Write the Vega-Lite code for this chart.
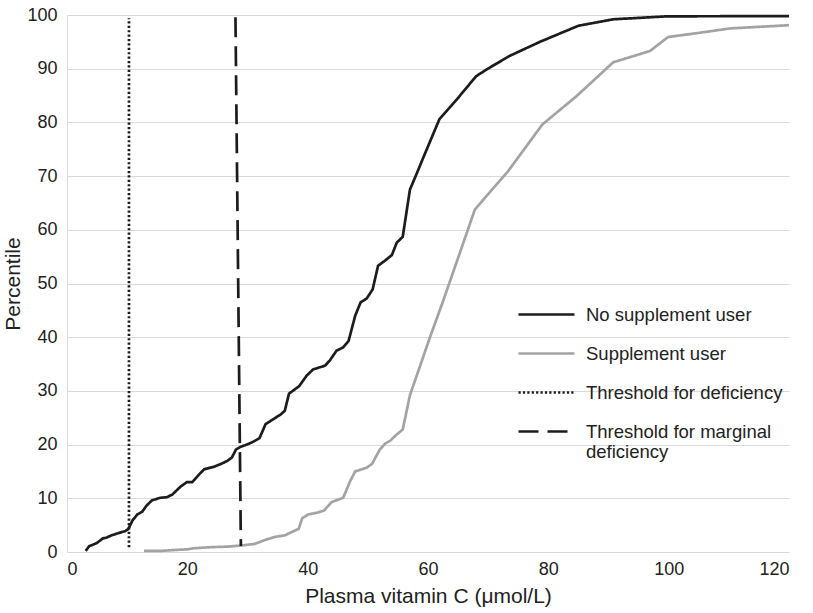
{
  "$schema": "https://vega.github.io/schema/vega-lite/v6.json",
  "autosize": {"type": "none"},
  "width": 722,
  "height": 537,
  "padding": {"left": 67, "top": 15, "right": 24, "bottom": 61},
  "background": "white",
  "config": {
    "view": {"stroke": null},
    "font": "Liberation Sans",
    "axis": {"labelFont": "Liberation Sans", "titleFont": "Liberation Sans", "labelColor": "#222222", "titleColor": "#222222", "titleFontWeight": "normal", "gridColor": "#d9d9d9", "gridWidth": 1, "ticks": false}
  },
  "datasets": {
    "curves": [
      {"s": "No supplement user", "x": 3.1, "y": 0.2},
      {"s": "No supplement user", "x": 3.7, "y": 1.1},
      {"s": "No supplement user", "x": 4.4, "y": 1.4},
      {"s": "No supplement user", "x": 5.0, "y": 1.7},
      {"s": "No supplement user", "x": 5.9, "y": 2.5},
      {"s": "No supplement user", "x": 6.6, "y": 2.7},
      {"s": "No supplement user", "x": 7.4, "y": 3.1},
      {"s": "No supplement user", "x": 8.5, "y": 3.5},
      {"s": "No supplement user", "x": 9.7, "y": 3.9},
      {"s": "No supplement user", "x": 10.2, "y": 4.3},
      {"s": "No supplement user", "x": 10.9, "y": 5.9},
      {"s": "No supplement user", "x": 11.7, "y": 7.0},
      {"s": "No supplement user", "x": 12.5, "y": 7.5},
      {"s": "No supplement user", "x": 13.2, "y": 8.6},
      {"s": "No supplement user", "x": 14.1, "y": 9.6},
      {"s": "No supplement user", "x": 15.5, "y": 10.1},
      {"s": "No supplement user", "x": 16.6, "y": 10.2},
      {"s": "No supplement user", "x": 17.5, "y": 10.7},
      {"s": "No supplement user", "x": 18.9, "y": 12.2},
      {"s": "No supplement user", "x": 19.9, "y": 13.0},
      {"s": "No supplement user", "x": 20.8, "y": 13.0},
      {"s": "No supplement user", "x": 22.0, "y": 14.5},
      {"s": "No supplement user", "x": 22.8, "y": 15.4},
      {"s": "No supplement user", "x": 24.5, "y": 15.9},
      {"s": "No supplement user", "x": 25.6, "y": 16.4},
      {"s": "No supplement user", "x": 26.7, "y": 17.0},
      {"s": "No supplement user", "x": 27.4, "y": 17.6},
      {"s": "No supplement user", "x": 28.1, "y": 19.1},
      {"s": "No supplement user", "x": 28.9, "y": 19.6},
      {"s": "No supplement user", "x": 30.1, "y": 20.1},
      {"s": "No supplement user", "x": 30.9, "y": 20.5},
      {"s": "No supplement user", "x": 32.0, "y": 21.2},
      {"s": "No supplement user", "x": 33.0, "y": 23.8},
      {"s": "No supplement user", "x": 34.1, "y": 24.6},
      {"s": "No supplement user", "x": 35.5, "y": 25.6},
      {"s": "No supplement user", "x": 36.2, "y": 26.3},
      {"s": "No supplement user", "x": 36.9, "y": 29.5},
      {"s": "No supplement user", "x": 38.0, "y": 30.4},
      {"s": "No supplement user", "x": 38.6, "y": 30.9},
      {"s": "No supplement user", "x": 39.8, "y": 32.8},
      {"s": "No supplement user", "x": 40.9, "y": 34.0},
      {"s": "No supplement user", "x": 42.9, "y": 34.7},
      {"s": "No supplement user", "x": 43.7, "y": 35.7},
      {"s": "No supplement user", "x": 44.8, "y": 37.5},
      {"s": "No supplement user", "x": 45.9, "y": 38.1},
      {"s": "No supplement user", "x": 46.8, "y": 39.3},
      {"s": "No supplement user", "x": 47.9, "y": 44.0},
      {"s": "No supplement user", "x": 48.8, "y": 46.5},
      {"s": "No supplement user", "x": 49.8, "y": 47.2},
      {"s": "No supplement user", "x": 50.8, "y": 48.9},
      {"s": "No supplement user", "x": 51.7, "y": 53.3},
      {"s": "No supplement user", "x": 52.9, "y": 54.3},
      {"s": "No supplement user", "x": 54.0, "y": 55.3},
      {"s": "No supplement user", "x": 54.8, "y": 57.6},
      {"s": "No supplement user", "x": 55.8, "y": 58.7},
      {"s": "No supplement user", "x": 57.0, "y": 67.5},
      {"s": "No supplement user", "x": 58.1, "y": 70.4},
      {"s": "No supplement user", "x": 59.2, "y": 73.4},
      {"s": "No supplement user", "x": 61.9, "y": 80.6},
      {"s": "No supplement user", "x": 64.8, "y": 84.3},
      {"s": "No supplement user", "x": 68.0, "y": 88.6},
      {"s": "No supplement user", "x": 69.8, "y": 89.9},
      {"s": "No supplement user", "x": 73.6, "y": 92.4},
      {"s": "No supplement user", "x": 78.6, "y": 95.0},
      {"s": "No supplement user", "x": 85.0, "y": 98.0},
      {"s": "No supplement user", "x": 90.8, "y": 99.2},
      {"s": "No supplement user", "x": 99.7, "y": 99.75},
      {"s": "No supplement user", "x": 120, "y": 99.8},
      {"s": "Supplement user", "x": 12.8, "y": 0.2},
      {"s": "Supplement user", "x": 15.5, "y": 0.2},
      {"s": "Supplement user", "x": 18.3, "y": 0.4},
      {"s": "Supplement user", "x": 20.0, "y": 0.5},
      {"s": "Supplement user", "x": 21.1, "y": 0.7},
      {"s": "Supplement user", "x": 23.9, "y": 0.9},
      {"s": "Supplement user", "x": 26.7, "y": 1.0},
      {"s": "Supplement user", "x": 28.9, "y": 1.2},
      {"s": "Supplement user", "x": 31.2, "y": 1.5},
      {"s": "Supplement user", "x": 32.8, "y": 2.2},
      {"s": "Supplement user", "x": 34.5, "y": 2.8},
      {"s": "Supplement user", "x": 36.2, "y": 3.1},
      {"s": "Supplement user", "x": 37.9, "y": 4.0},
      {"s": "Supplement user", "x": 38.5, "y": 4.3},
      {"s": "Supplement user", "x": 39.1, "y": 6.3},
      {"s": "Supplement user", "x": 40.1, "y": 7.0},
      {"s": "Supplement user", "x": 41.5, "y": 7.3},
      {"s": "Supplement user", "x": 42.7, "y": 7.7},
      {"s": "Supplement user", "x": 44.0, "y": 9.3},
      {"s": "Supplement user", "x": 45.9, "y": 10.1},
      {"s": "Supplement user", "x": 47.1, "y": 13.3},
      {"s": "Supplement user", "x": 47.9, "y": 15.0},
      {"s": "Supplement user", "x": 49.8, "y": 15.7},
      {"s": "Supplement user", "x": 50.7, "y": 16.4},
      {"s": "Supplement user", "x": 52.0, "y": 19.1},
      {"s": "Supplement user", "x": 52.9, "y": 20.2},
      {"s": "Supplement user", "x": 53.7, "y": 20.7},
      {"s": "Supplement user", "x": 54.8, "y": 21.9},
      {"s": "Supplement user", "x": 55.8, "y": 22.8},
      {"s": "Supplement user", "x": 57.0, "y": 29.2},
      {"s": "Supplement user", "x": 60.3, "y": 39.9},
      {"s": "Supplement user", "x": 62.5, "y": 46.7},
      {"s": "Supplement user", "x": 67.8, "y": 63.8},
      {"s": "Supplement user", "x": 73.3, "y": 70.9},
      {"s": "Supplement user", "x": 79.0, "y": 79.6},
      {"s": "Supplement user", "x": 84.7, "y": 84.9},
      {"s": "Supplement user", "x": 90.8, "y": 91.2},
      {"s": "Supplement user", "x": 96.9, "y": 93.3},
      {"s": "Supplement user", "x": 99.9, "y": 95.9},
      {"s": "Supplement user", "x": 105.2, "y": 96.7},
      {"s": "Supplement user", "x": 110.2, "y": 97.5},
      {"s": "Supplement user", "x": 120, "y": 98.1},
      {"s": "Threshold for deficiency", "x": 10.3, "y": 0.9},
      {"s": "Threshold for deficiency", "x": 10.3, "y": 99.4},
      {"s": "Threshold for marginal deficiency", "x": 28.9, "y": 1.1},
      {"s": "Threshold for marginal deficiency", "x": 28.0, "y": 99.6}
    ]
  },
  "data": {"name": "curves"},
  "mark": {"type": "line", "strokeWidth": 2.7, "strokeCap": "butt"},
  "encoding": {
    "x": {
      "field": "x", "type": "quantitative",
      "scale": {"domain": [0, 120], "nice": false, "zero": false},
      "axis": {"values": [0, 20, 40, 60, 80, 100, 120], "grid": false, "domain": false, "labelFontSize": 18, "labelPadding": 8, "title": "Plasma vitamin C (μmol/L)", "titleFontSize": 21, "titlePadding": 7}
    },
    "y": {
      "field": "y", "type": "quantitative",
      "scale": {"domain": [0, 100], "nice": false},
      "axis": {"values": [0, 10, 20, 30, 40, 50, 60, 70, 80, 90, 100], "grid": true, "domain": true, "domainColor": "#d9d9d9", "domainWidth": 1, "labelFontSize": 18, "labelPadding": 10, "title": "Percentile", "titleFontSize": 21, "titlePadding": 3}
    },
    "color": {
      "field": "s", "type": "nominal",
      "scale": {"domain": ["No supplement user", "Supplement user", "Threshold for deficiency", "Threshold for marginal deficiency"], "range": ["#1c1c1c", "#a3a3a3", "#1c1c1c", "#1c1c1c"]},
      "legend": {
        "title": null, "orient": "none", "legendX": 450, "legendY": 270, "padding": 0,
        "symbolType": "stroke", "symbolSize": 3136, "symbolStrokeWidth": 2.7,
        "labelFont": "Liberation Sans", "labelFontSize": 18.5, "labelLineHeight": 20, "labelColor": "#222222", "labelOffset": 10, "labelLimit": 400,
        "rowPadding": 0,
        "labelExpr": "datum.label === 'Threshold for marginal deficiency' ? ['Threshold for marginal', 'deficiency'] : datum.label"
      }
    },
    "strokeDash": {
      "field": "s", "type": "nominal",
      "scale": {"domain": ["No supplement user", "Supplement user", "Threshold for deficiency", "Threshold for marginal deficiency"], "range": [[1, 0], [1, 0], [2.2, 2.2], [20, 9]]},
      "legend": null
    }
  }
}
